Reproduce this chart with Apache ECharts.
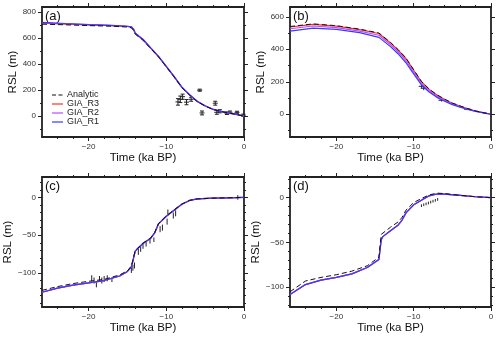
<!DOCTYPE html>
<html>
<head>
<meta charset="utf-8">
<script src="https://cdn.jsdelivr.net/npm/echarts@6/dist/echarts.min.js"></script>
<style>
  html, body { margin:0; padding:0; background:#fff; }
  #main { width:500px; height:340px; }
</style>
</head>
<body>
<div id="main"></div>
<script>
// ---- data ----
var seriesNames = ['Analytic', 'GIA_R3', 'GIA_R2', 'GIA_R1'];

var timeA = [-26,-23,-20,-17,-15,-14.5,-14.2,-14,-13.5,-13,-12,-11,-10,-9,-8,-7,-6,-5,-4,-3,-2,-1,0];
var aAnalytic = [708,703,697,692,686,680,660,632,608,585,520,456,380,302,220,162,112,78,52,36,25,14,0];
var aR3 = [716,709,702,696,690,685,665,636,611,588,522,458,382,304,222,163,113,79,53,37,25,14,0];
var aR2 = [719,711,704,697,691,687,667,638,613,590,524,459,383,305,223,164,113,79,53,37,25,14,0];
var aR1 = [722,713,705,698,692,688,668,640,615,592,526,460,384,306,224,165,114,80,54,37,26,14,0];

var timeB = [-26,-23,-20,-17,-14.5,-13,-12,-11,-10.5,-10,-9,-8,-7,-6,-5,-4,-3,-2,-1,0];
var bAnalytic = [540,556,545,524,500,442,397,346,310,274,202,155,120,93,69,51,35,21,10,0];
var bR3 = [537,553,542,521,497,439,394,343,307,271,200,153,118,91,68,50,34,20,10,0];
var bR2 = [526,543,533,512,486,428,383,331,295,260,190,145,111,86,64,47,32,19,9,0];
var bR1 = [512,530,522,502,473,416,371,317,282,248,180,137,104,80,59,43,29,18,9,0];

var timeC = [-26,-24,-22,-20,-18,-16,-15,-14.5,-14.3,-14,-13.5,-13,-12,-11.5,-11,-10,-9,-8,-7,-6,-4,-2,0];
var cAnalytic = [-123,-118,-114,-111,-108.5,-102.5,-97,-91,-83,-70,-65.5,-60.5,-53.5,-46.5,-34.5,-24.5,-16.5,-8.8,-4,-2,-1,-0.5,0];
var cR3 = [-125.5,-120,-116,-113,-110,-104,-98,-92,-84,-71,-66,-61,-54,-47,-35,-25,-17,-9,-4,-2,-1,-0.5,0];
var cR2 = [-125.5,-120,-116,-113,-110,-104,-98,-92,-84,-71,-66,-61,-54,-47,-35,-25,-17,-9,-4,-2,-1,-0.5,0];
var cR1 = [-125.5,-120,-116,-113,-110,-104,-98,-92,-84,-71,-66,-61,-54,-47,-35,-25,-17,-9,-4,-2,-1,-0.5,0];

var timeD = [-26,-24,-22,-20,-18,-16,-14.5,-14.2,-14,-13,-12,-11.5,-11,-10,-9,-8,-7,-6,-4,-2,0];
var dAnalytic = [-105,-93,-89,-86,-82,-76,-66.5,-41,-39,-33,-27,-22,-14,-5.5,-1,3,5,4.5,2.6,1,0];
var dR3 = [-108,-97,-92,-89,-85,-78,-69,-47,-43.5,-37,-30.5,-25,-17,-8,-3,2,4,4,2.6,1,0];
var dR2 = [-108,-97,-92,-89,-85,-78,-69,-47,-43.5,-37,-30.5,-25,-17,-8,-3,2,4,4,2.6,1,0];
var dR1 = [-108,-97,-92,-89,-85,-78,-69,-47,-43.5,-37,-30.5,-25,-17,-8,-3,2,4,4,2.6,1,0];

// observations: time, rsl, half error
var obsAt = [-8.5,-8.2,-7.9,-7.4,-6.8,-5.7,-5.4,-3.7,-3.5,-3.1,-2.2,-1.8,-0.9,-0.1];
var obsAy = [110,130,150,108,130,200,25,100,30,38,23,30,30,8];
var obsAe = [25,25,20,20,15,8,15,15,15,12,10,10,8,8];

var obsBt = [-8.96,-8.7,-6.4,-3.1];
var obsBy = [172,160,86,31];
var obsBe = [12,12,8,6];

var obsCt = [-19.6,-19.3,-19.0,-18.6,-18.3,-18.0,-17.6,-17.0,-14.5,-14.3,-14.1,-13.6,-13.3,-13.0,-12.6,-12.1,-11.6,-10.8,-10.5,-9.9,-9.8,-9.1,-8.8,-0.8];
var obsCy = [-107,-110,-115,-108,-110,-108,-107,-109,-96,-93,-90,-72,-68,-64,-62,-58,-56,-42,-40,-32,-20,-24,-21,0];
var obsCe = [4,4,4,4,4,4,4,3,4,4,4,4,4,4,3,3,3,4,4,4,4,4,4,3];

var obsDt = [-9.0,-8.7,-8.4,-8.1,-7.8,-7.5,-7.2,-6.9];
var obsDy = [-9,-8,-7,-6,-5,-4,-3,-2];
var obsDe = [1.5,1.5,1.5,1.5,1.5,1.5,1.5,1.5];

// ticks
var timeMajor = [-20,-10,0];
var timeMinor = [-24,-22,-18,-16,-14,-12,-8,-6,-4,-2];
var aMajor = [0,200,400,600,800];
var aMinor = [-100,100,300,500,700];
var bMajor = [0,200,400,600];
var bMinor = [-100,100,300,500];
var cMajor = [-100,-50,0];
var cMinor = [-140,-130,-120,-110,-90,-80,-70,-60,-40,-30,-20,-10,10,20];
var dMajor = [-100,-50,0];
var dMinor = [-120,-110,-90,-80,-70,-60,-40,-30,-20,-10,10,20];

var colors = {'Analytic':'#111', 'GIA_R3':'#ff2e2e', 'GIA_R2':'#b84cff', 'GIA_R1':'#3a3aff'};

// ---- layout ----
var panels = [
  {label:'(a)', grid:{left:42, top:7, width:202, height:130}, ymin:-160, ymax:840, yMajor:aMajor, yMinor:aMinor,
   t:timeA, lines:[aR3,aR2,aR1,aAnalytic], obs:[obsAt,obsAy,obsAe], cross:5, cap:4},
  {label:'(b)', grid:{left:290, top:7, width:201, height:130}, ymin:-140, ymax:660, yMajor:bMajor, yMinor:bMinor,
   t:timeB, lines:[bR3,bR2,bR1,bAnalytic], obs:[obsBt,obsBy,obsBe], cross:6, cap:0},
  {label:'(c)', grid:{left:42, top:177, width:202, height:130}, ymin:-145, ymax:27, yMajor:cMajor, yMinor:cMinor,
   t:timeC, lines:[cR3,cR2,cR1,cAnalytic], obs:[obsCt,obsCy,obsCe], cross:0, cap:0},
  {label:'(d)', grid:{left:290, top:177, width:201, height:130}, ymin:-122, ymax:23, yMajor:dMajor, yMinor:dMinor,
   t:timeD, lines:[dR3,dR2,dR1,dAnalytic], obs:[obsDt,obsDy,obsDe], cross:0, cap:0}
];
var lineOrder = ['GIA_R3','GIA_R2','GIA_R1','Analytic'];

function fmt(v){ return v < 0 ? '\u2212' + (-v) : String(v); }
var frameColor = '#222';

function axis(gi, min, max, pos, ticks, len, opts){
  var a = {
    type:'value', gridIndex:gi, min:min, max:max, position:pos,
    splitLine:{show:false},
    axisLine:{show:opts.line, onZero:false, lineStyle:{color:frameColor, width:1.8}},
    axisTick:{show:true, inside:false, length:len, customValues:ticks, lineStyle:{color:frameColor, width:1}},
    axisLabel:{show:!!opts.label, customValues:ticks, margin:6, formatter:fmt, fontSize:8, color:'#333', fontFamily:'Liberation Sans'}
  };
  if (opts.name) {
    a.name = opts.name; a.nameLocation = 'middle'; a.nameGap = opts.gap;
    a.nameTextStyle = {fontSize:11.5, color:'#111', fontFamily:'Liberation Sans'};
  }
  return a;
}

var xAxes = [], yAxes = [], series = [], graphics = [];
panels.forEach(function(p, gi){
  var xi = xAxes.length, yi = yAxes.length;
  xAxes.push(axis(gi, -26, 0, 'bottom', timeMajor, 4, {line:true, label:true, name:'Time (ka BP)', gap:13}));
  xAxes.push(axis(gi, -26, 0, 'bottom', timeMinor, 2, {line:false}));
  xAxes.push(axis(gi, -26, 0, 'top', timeMajor, 4, {line:true}));
  xAxes.push(axis(gi, -26, 0, 'top', timeMinor, 2, {line:false}));
  yAxes.push(axis(gi, p.ymin, p.ymax, 'left', p.yMajor, 4, {line:true, label:true, name:'RSL (m)', gap:20}));
  yAxes.push(axis(gi, p.ymin, p.ymax, 'left', p.yMinor, 2, {line:false}));
  yAxes.push(axis(gi, p.ymin, p.ymax, 'right', p.yMajor, 4, {line:true}));
  yAxes.push(axis(gi, p.ymin, p.ymax, 'right', p.yMinor, 2, {line:false}));

  // observations with error bars
  var od = p.obs[0].map(function(t, i){ return [t, p.obs[1][i], p.obs[2][i]]; });
  series.push({
    type:'custom', xAxisIndex:xi, yAxisIndex:yi, silent:true, z:1,
    data:od,
    renderItem:(function(cross, cap){
      return function(params, api){
        var t = api.value(0), y = api.value(1), e = api.value(2);
        var lo = api.coord([t, y - e]), hi = api.coord([t, y + e]), c = api.coord([t, y]);
        var st = {stroke:'#222', lineWidth:1};
        var kids = [{type:'line', shape:{x1:lo[0], y1:lo[1], x2:hi[0], y2:hi[1]}, style:st}];
        if (cross) kids.push({type:'line', shape:{x1:c[0]-cross/2, y1:c[1], x2:c[0]+cross/2, y2:c[1]}, style:st});
        if (cap) {
          kids.push({type:'line', shape:{x1:lo[0]-cap/2, y1:lo[1], x2:lo[0]+cap/2, y2:lo[1]}, style:st});
          kids.push({type:'line', shape:{x1:hi[0]-cap/2, y1:hi[1], x2:hi[0]+cap/2, y2:hi[1]}, style:st});
        }
        return {type:'group', children:kids};
      };
    })(p.cross, p.cap)
  });

  lineOrder.forEach(function(name, k){
    series.push({
      name:name, type:'line', xAxisIndex:xi, yAxisIndex:yi, showSymbol:false, symbol:'none',
      z:2 + k, animation:false,
      data:p.t.map(function(t, i){ return [t, p.lines[k][i]]; }),
      lineStyle:{color:colors[name], width:name === 'Analytic' ? 1 : 1.2, type:name === 'Analytic' ? [5,3] : 'solid'},
      itemStyle:{color:colors[name]}
    });
  });

  graphics.push({type:'text', left:p.grid.left + 3, top:p.grid.top + 3,
    style:{text:p.label, fontSize:13, fill:'#111', fontFamily:'Liberation Sans'}});
});

// legend for panel (a), drawn as line samples + labels
seriesNames.forEach(function(name, i){
  var y = 95 + i * 9;
  graphics.push({type:'line', shape:{x1:52, y1:y, x2:63, y2:y},
    style:{stroke:colors[name], lineWidth:name === 'Analytic' ? 1 : 1.2, lineDash:name === 'Analytic' ? [4,2.5] : null}});
  graphics.push({type:'text', x:67, y:y,
    style:{text:name, fontSize:9, fill:'#222', fontFamily:'Liberation Sans', verticalAlign:'middle'}});
});

var chart = echarts.init(document.getElementById('main'), null, {renderer:'canvas'});
chart.setOption({
  animation:false,
  backgroundColor:'#fff',
  grid:panels.map(function(p){ return p.grid; }),
  xAxis:xAxes,
  yAxis:yAxes,
  graphic:graphics,
  series:series
});
</script>
</body>
</html>
